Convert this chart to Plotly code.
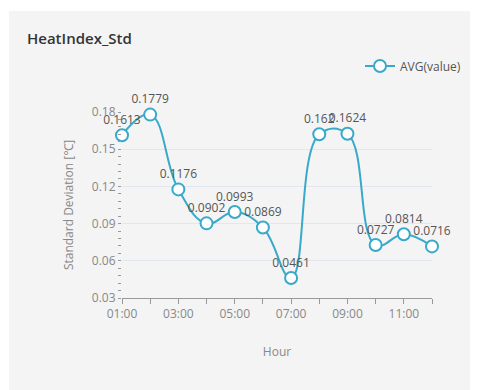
import plotly.graph_objects as go

hours = [1, 2, 3, 4, 5, 6, 7, 8, 9, 10, 11, 12]
values = [0.1613, 0.1779, 0.1176, 0.0902, 0.0993, 0.0869, 0.0461, 0.1620, 0.1624, 0.0727, 0.0814, 0.0716]
tick_labels = ["01:00", "", "03:00", "", "05:00", "", "07:00", "", "09:00", "", "11:00", ""]
series_name = "AVG(value)"

color = "#39a9c9"
font = "Open Sans, Noto Sans, sans-serif"

# page body margin offsets the figure by ~8px; lay out in figure coords
L, T, PW, PH = 114, 104, 310, 186
FW, FH = 470, 382

fig = go.Figure()
fig.add_trace(go.Scatter(
    x=hours, y=values, name=series_name,
    mode="lines+markers+text",
    text=[str(v) for v in values],
    textposition="top center",
    textfont=dict(size=12, color="#555555", family=font),
    line=dict(color=color, width=2, shape="spline", smoothing=1.2),
    marker=dict(size=12, color="white", line=dict(color=color, width=2)),
    cliponaxis=False,
))

bottom = T + PH
fig.update_layout(
    width=FW, height=FH,
    paper_bgcolor="white", plot_bgcolor="rgba(0,0,0,0)",
    margin=dict(l=L, r=FW - L - PW, t=T, b=FH - T - PH),
    font=dict(family=font, color="#888888", size=12),
    shapes=[dict(type="rect", xref="paper", yref="paper", layer="below",
                 x0=(1 - L) / PW, x1=(FW + 5 - L) / PW, y0=(bottom - FH - 5) / PH, y1=(bottom - 3) / PH,
                 fillcolor="#f4f4f4", line=dict(width=0))],
    annotations=[dict(text="HeatIndex_Std", xref="paper", yref="paper",
                      x=(17 - L) / PW, y=(bottom - 30) / PH, xanchor="left", yanchor="middle",
                      showarrow=False, font=dict(size=15, color="#333333", family=font, weight=600))],
    showlegend=True,
    legend=dict(x=(458 - L) / PW, y=(bottom - 58) / PH, xanchor="right", yanchor="middle",
                bgcolor="rgba(0,0,0,0)", font=dict(size=12, color="#555555")),
    xaxis=dict(
        range=[1, 12], tickvals=hours, ticktext=tick_labels,
        showgrid=False, zeroline=False,
        showline=True, linecolor="#999999", linewidth=1,
        ticks="outside", ticklen=5, tickcolor="#999999",
        tickfont=dict(size=12, color="#888888"),
        title=dict(text="Hour", font=dict(size=12, color="#888888"), standoff=26),
    ),
    yaxis=dict(
        range=[0.03, 0.18], tickvals=[0.03, 0.06, 0.09, 0.12, 0.15, 0.18],
        ticktext=["0.03", "0.06", "0.09", "0.12", "0.15", "0.18"],
        showgrid=True, gridcolor="#e2e6ee", gridwidth=1, zeroline=False,
        showline=False, ticks="outside", ticklen=3, tickcolor="#999999",
        minor=dict(dtick=0.006, ticks="outside", ticklen=3, tickcolor="#999999", showgrid=False),
        tickfont=dict(size=12, color="#888888"),
        title=dict(text="Standard Deviation [℃]", font=dict(size=12, color="#888888"), standoff=15),
    ),
)

fig.write_html("out.html")
